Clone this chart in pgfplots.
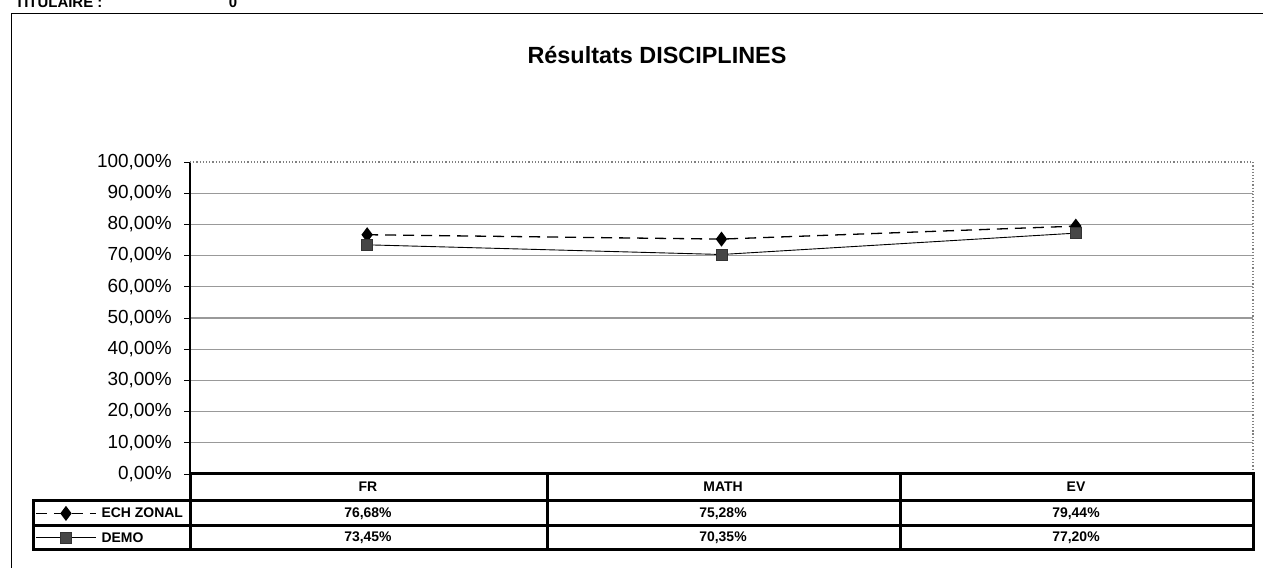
\documentclass[border=0pt]{standalone}
\usepackage{fontspec}
\setmainfont{Liberation Sans}
\usepackage{pgfplots}
\pgfplotsset{compat=1.18}

\begin{document}
\begin{tikzpicture}[x=1bp,y=1bp]
\useasboundingbox (0,0) rectangle (1263,568);

% outer frame and header text (cut at the top like the reference)
\draw[line width=1bp] (11,554) -- (1280,554);
\draw[line width=1bp] (11,554) -- (11,-10);
\node[anchor=base west, inner sep=0pt, font=\bfseries\fontsize{15}{17}\selectfont] at (15,560) {TITULAIRE :};
\node[anchor=base, inner sep=0pt, font=\bfseries\fontsize{15}{17}\selectfont] at (233,560) {0};

\node[font=\bfseries\fontsize{23.5}{26}\selectfont] at (657,513) {Résultats DISCIPLINES};

\begin{axis}[
    at={(190bp,94bp)}, anchor=south west,
    scale only axis,
    width=1063bp, height=312bp,
    xmin=0.5, xmax=3.5,
    ymin=0, ymax=100,
    xtick=\empty,
    ytick={0,10,...,100},
    yticklabels={{0,00\%},{10,00\%},{20,00\%},{30,00\%},{40,00\%},{50,00\%},{60,00\%},{70,00\%},{80,00\%},{90,00\%},{100,00\%}},
    yticklabel style={font=\fontsize{19}{22}\selectfont, inner sep=2bp, xshift=-10bp},
    extra y ticks={10,20,...,90},
    extra y tick labels={},
    extra y tick style={ymajorgrids=true, major tick length=0pt},
    grid style={gray!80, line width=1.3bp},
    tick align=outside,
    y tick style={black, line width=0.8bp},
    major tick length=6bp,
    ytick pos=left,
    axis line style={draw=none},
    clip=false,
    legend style={
        at={(axis description cs:-0.1457,-0.0865)}, anchor=north west,
        draw=none, fill=none, inner sep=0pt,
        font=\bfseries\fontsize{14}{16}\selectfont,
        nodes={minimum height=24.5bp, inner sep=0pt},
        /tikz/every odd column/.append style={column sep=5bp},
    },
    legend cell align=left,
    legend image code/.code={
        \draw[mark repeat=2, mark phase=2, #1] plot coordinates {(0bp,0bp) (30bp,0bp) (60bp,0bp)};
    },
    after end axis/.code={
        \draw[black, line width=1.8bp] (rel axis cs:0,0) -- (rel axis cs:0,1);
        \draw[gray, line width=1.2bp, dotted] (rel axis cs:0,1) -- (rel axis cs:1,1) -- (rel axis cs:1,0);
    },
]
\addplot[black, line width=1.3bp, dash pattern=on 11bp off 7bp,
    mark=diamond*, mark size=6.5bp, mark options={solid, fill=black}]
    coordinates {(1,76.68) (2,75.28) (3,79.44)};
\addlegendentry{ECH ZONAL}

\addplot[black, line width=0.9bp,
    mark=square*, mark size=5.5bp, mark options={solid, fill=gray!55!black, draw=gray!40!black, line width=0.6bp}]
    coordinates {(1,73.45) (2,70.35) (3,77.20)};
\addlegendentry{DEMO}
\end{axis}

% data table under the chart
\begin{scope}[line width=3bp, line cap=rect]
\draw (190,94) -- (1253,94);
\draw (33,67) -- (1253,67);
\draw (33,42) -- (1253,42);
\draw (33,18) -- (1253,18);
\draw (33,67) -- (33,18);
\draw (190,94) -- (190,18);
\draw (547,94) -- (547,18);
\draw (900,94) -- (900,18);
\draw (1253,94) -- (1253,18);
\end{scope}

\begin{scope}[every node/.style={font=\bfseries\fontsize{14}{16}\selectfont, inner sep=0pt}]
\node at (368,81) {FR};
\node at (723,81) {MATH};
\node at (1076,81) {EV};
\node at (368,54.5) {76,68\%};
\node at (723,54.5) {75,28\%};
\node at (1076,54.5) {79,44\%};
\node at (368,30) {73,45\%};
\node at (723,30) {70,35\%};
\node at (1076,30) {77,20\%};
\end{scope}
\end{tikzpicture}
\end{document}
